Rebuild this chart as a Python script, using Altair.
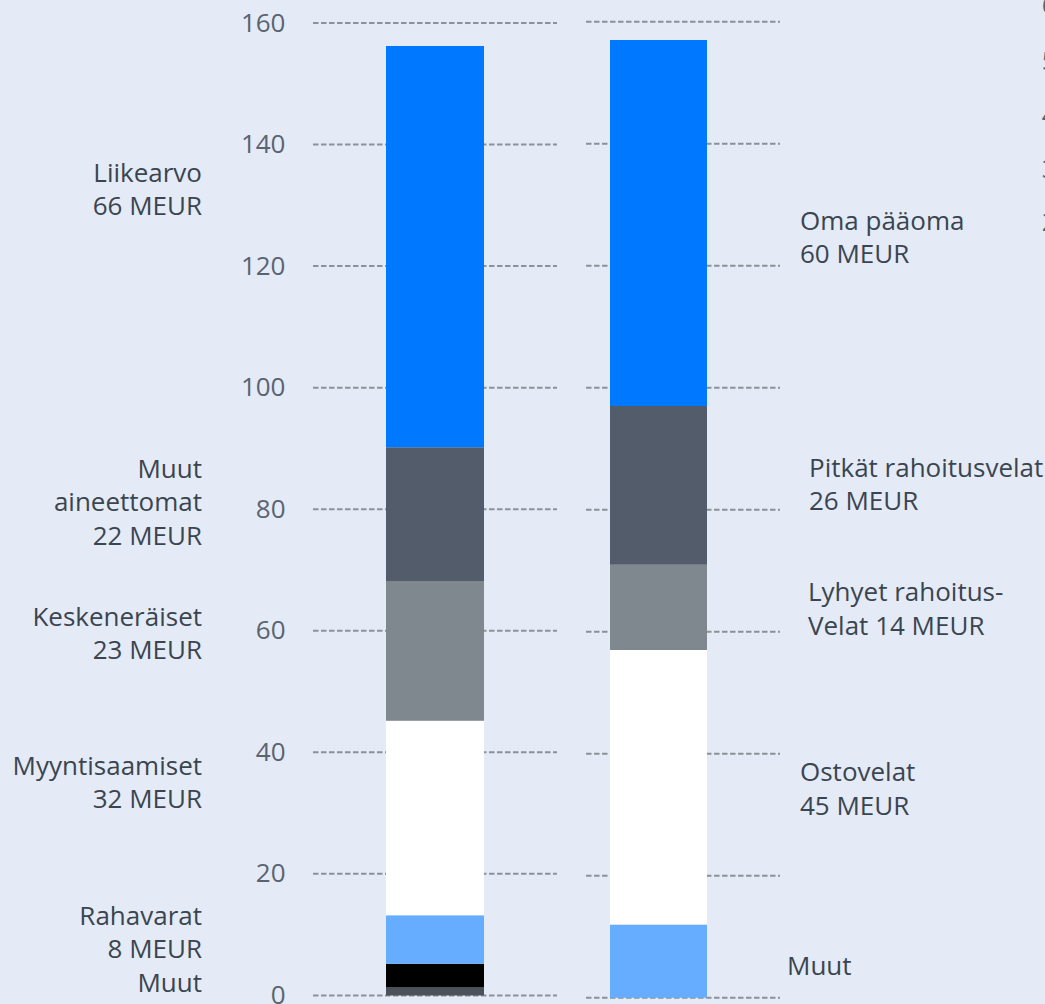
import altair as alt
import pandas as pd

# ---- data -------------------------------------------------------------
# Assets (vastaavaa), stacked bottom to top, MEUR
asset_names = ["Muut", "Muut erät", "Rahavarat", "Myyntisaamiset",
               "Keskeneräiset", "Muut aineettomat", "Liikearvo"]
asset_values = [1.3, 3.9, 8, 32, 23, 22, 66]
asset_colors = ["#4b525a", "#000000", "#66adff", "#ffffff",
                "#7f888e", "#535c6a", "#0078ff"]

# Liabilities and equity (vastattavaa), stacked bottom to top, MEUR
liab_names = ["Muut", "Ostovelat", "Lyhyet rahoitusvelat",
              "Pitkät rahoitusvelat", "Oma pääoma"]
liab_values = [12, 45, 14, 26, 60]
liab_colors = ["#66adff", "#ffffff", "#7f888e", "#535c6a", "#0078ff"]

# Axis ticks
tick_values = [0, 20, 40, 60, 80, 100, 120, 140, 160]

# Side labels: text lines and the value level of the first line's baseline
asset_label_lines = [
    ["Liikearvo", f"{asset_values[6]} MEUR"],
    ["Muut", "aineettomat", f"{asset_values[5]} MEUR"],
    ["Keskeneräiset", f"{asset_values[4]} MEUR"],
    ["Myyntisaamiset", f"{asset_values[3]} MEUR"],
    ["Rahavarat", f"{asset_values[2]} MEUR"],
    ["Muut"],
]
asset_label_at = [133.9, 85.2, 60.8, 36.3, 11.6, 0.5]

liab_label_lines = [
    ["Oma pääoma", f"{liab_values[4]} MEUR"],
    ["Pitkät rahoitusvelat", f"{liab_values[3]} MEUR"],
    ["Lyhyet rahoitus-", f"Velat {liab_values[2]} MEUR"],
    ["Ostovelat", f"{liab_values[1]} MEUR"],
    ["Muut"],
]
liab_label_at = [125.9, 85.4, 65.0, 35.5, 3.7]

# Neighbouring axis labels at the right edge
edge_labels = ["60", "50", "40", "30", "20"]
edge_label_at = [161.4, 152.3, 143.4, 134.5, 125.7]

# ---- layout (plot-area pixels) ------------------------------------------
PLOT_W, PLOT_H = 467, 972.4
LEFT = dict(bar=(73, 171), grid=(0, 244), label_x=-111)
RIGHT = dict(bar=(297, 394), grid=(273, 467))
RIGHT_LABEL_X = [487, 496, 495, 487, 474]
EDGE_X = 728.7

FONT = "Open Sans"
FS = 26
LINE_H = 33.5
TEXT_COLOR = "#3b4550"
TICK_COLOR = "#5a6470"
GRID_COLOR = "#8b9298"
BG = "#e4ebf6"

xscale = alt.Scale(domain=[0, PLOT_W], nice=False, zero=False)
yscale_left = alt.Scale(domain=[0, 160], nice=False, zero=False)
# liabilities column sits on its own, marginally offset scale
yscale_right = alt.Scale(domain=[0.38, 159.8], nice=False, zero=False)

left_axis = alt.Axis(values=tick_values, labelFont=FONT, labelFontSize=FS,
                     labelColor=TICK_COLOR, domain=False, ticks=False,
                     grid=False, labelPadding=28, title=None,
                     labelBaseline="middle")


def stacked(names, values, colors, x0, x1):
    df = pd.DataFrame({"name": names, "value": values, "color": colors})
    df["top"] = df["value"].cumsum()
    df["bottom"] = df["top"] - df["value"]
    df["x0"], df["x1"] = x0, x1
    return df


def grid(x0, x1):
    return pd.DataFrame({"tick": tick_values, "x0": x0, "x1": x1})


assets = stacked(asset_names, asset_values, asset_colors, *LEFT["bar"])
liabs = stacked(liab_names, liab_values, liab_colors, *RIGHT["bar"])

asset_labels = pd.DataFrame({"lines": asset_label_lines, "at": asset_label_at,
                             "x": LEFT["label_x"]})
liab_labels = pd.DataFrame({"lines": liab_label_lines, "at": liab_label_at,
                            "x": RIGHT_LABEL_X})
edge = pd.DataFrame({"t": edge_labels, "at": edge_label_at, "x": EDGE_X})


def X(f):
    return alt.X(f, type="quantitative", scale=xscale, axis=None)


def Y(f, scale, axis):
    return alt.Y(f, type="quantitative", scale=scale, axis=axis)


def column_layer(bars_df, grid_df, labels_df, yscale, axis, align):
    gl = alt.Chart(grid_df).mark_rule(
        color=GRID_COLOR, strokeWidth=2, strokeDash=[5.5, 2.5]
    ).encode(x=X("x0"), x2="x1", y=Y("tick", yscale, axis))
    bars = alt.Chart(bars_df).mark_bar(strokeWidth=0).encode(
        x=X("x0"), x2="x1",
        y=Y("bottom", yscale, axis), y2="top",
        color=alt.Color("color:N", scale=None),
    )
    txt = alt.Chart(labels_df).mark_text(
        font=FONT, fontSize=FS, color=TEXT_COLOR, align=align,
        baseline="alphabetic", lineHeight=LINE_H,
    ).encode(x=X("x"), y=Y("at", yscale, axis), text="lines")
    return [gl, bars, txt]


left_layers = column_layer(assets, grid(*LEFT["grid"]), asset_labels,
                           yscale_left, left_axis, "right")
edge_text = alt.Chart(edge).mark_text(
    font=FONT, fontSize=FS, color=TICK_COLOR, align="left",
    baseline="alphabetic",
).encode(x=X("x"), y=Y("at", yscale_left, left_axis), text="t")
left = alt.layer(*left_layers, edge_text)

right = alt.layer(*column_layer(liabs, grid(*RIGHT["grid"]), liab_labels,
                                yscale_right, None, "left"))

chart = (
    alt.layer(left, right)
    .resolve_scale(y="independent")
    .properties(
        width=PLOT_W, height=PLOT_H,
        padding={"left": 313, "right": 265, "top": 23, "bottom": 8.6},
        autosize=alt.AutoSizeParams(type="none"),
        background=BG,
    )
    .configure_view(stroke=None)
)

chart.save("out.html", embed_options={"renderer": "svg", "actions": False})
